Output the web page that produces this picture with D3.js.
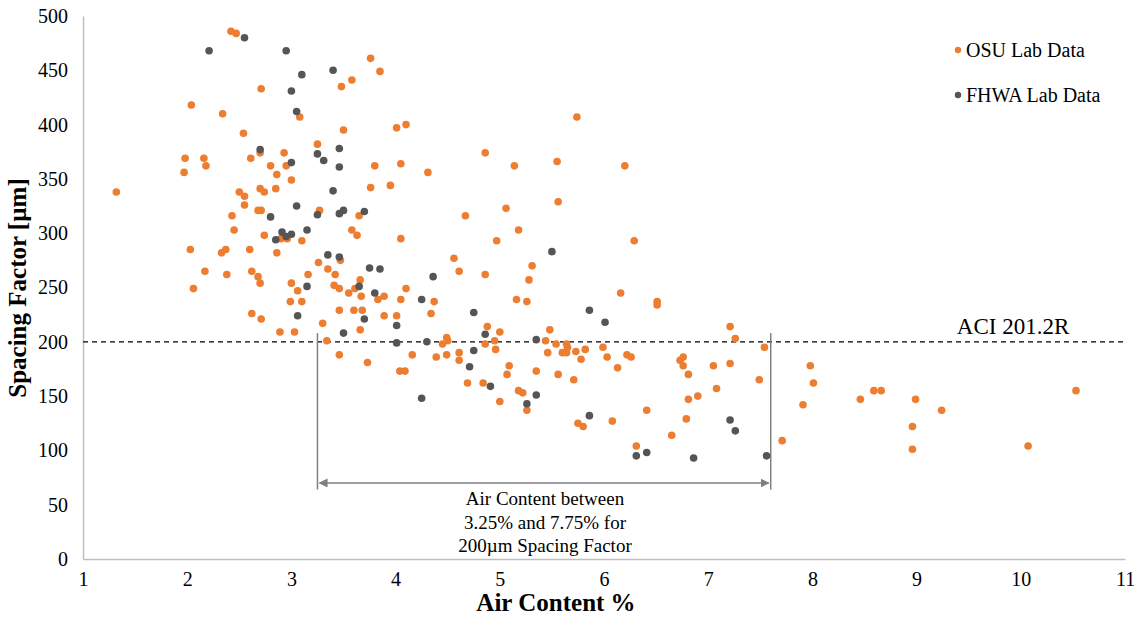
<!DOCTYPE html>
<html>
<head>
<meta charset="utf-8">
<script src="https://d3js.org/d3.v7.min.js"></script>
<style>
  body { margin: 0; background: #fff; }
  text { font-family: "Liberation Serif", "Times New Roman", serif; fill: #000; }
</style>
</head>
<body>
<script>
// OSU lab data: air content (%) and spacing factor (µm)
var osuAir = [2.42,2.47,2.71,2.04,2.34,3.08,2.54,3.25,2.70,1.98,2.16,2.61,2.93,2.95,2.80,2.18,1.97,2.86,3.00,1.32,
  2.50,2.55,2.70,2.74,2.85,2.55,2.68,2.71,3.27,2.43,2.45,2.74,2.90,2.96,3.10,2.03,2.33,2.37,2.60,2.86,
  3.26,3.35,2.17,2.38,2.62,2.68,2.70,3.16,2.06,3.00,3.06,2.99,3.10,2.62,2.71,3.30,2.89,3.03,3.34,
  3.76,3.85,3.58,3.48,3.50,4.01,4.10,3.80,4.05,4.31,4.86,5.14,5.55,3.76,3.95,3.65,3.58,3.63,4.05,4.67,
  5.06,5.56,5.18,4.97,3.47,3.42,4.56,4.61,4.86,5.31,5.28,3.66,3.41,3.46,3.61,4.10,3.55,3.67,3.83,3.89,
  4.05,4.37,5.16,5.26,3.46,3.60,3.68,3.89,4.01,4.34,3.66,4.88,5.48,5.00,4.49,4.50,4.45,4.86,4.95,4.96,
  5.44,5.54,5.64,3.46,4.16,4.39,4.49,4.61,5.46,5.60,5.64,3.73,4.04,4.09,4.61,5.09,5.07,5.35,5.56,4.69,
  4.84,5.18,5.22,5.00,5.26,
  5.74,6.20,6.29,6.16,6.51,6.51,7.21,7.26,7.54,5.65,5.73,5.82,5.99,6.03,6.22,6.26,5.78,6.76,6.73,6.76,
  5.71,6.13,6.81,7.05,7.21,7.49,7.08,6.90,6.81,6.41,6.08,5.75,5.80,6.79,6.65,6.31,7.71,7.91,7.98,8.01,
  8.46,8.59,8.66,8.99,9.24,8.96,8.96,10.07,10.53];
var osuSpacing = [486,484,433,418,410,407,392,382,374,369,369,369,374,362,362,362,356,354,349,338,
  338,334,341,338,341,326,321,321,321,316,303,298,295,295,293,285,282,285,285,282,
  273,267,265,262,265,260,254,262,249,254,247,237,237,226,221,217,209,209,201,
  461,449,441,435,395,397,400,362,364,356,374,362,366,342,344,316,303,298,295,316,
  323,329,303,293,275,262,277,265,262,270,257,257,252,249,249,249,245,242,239,242,
  239,237,239,237,229,229,229,224,224,226,211,214,211,209,204,201,198,198,201,193,
  201,198,198,188,188,186,188,190,190,190,190,181,173,173,183,178,170,173,170,162,
  162,155,153,145,137,
  407,362,293,245,237,234,214,203,195,195,191,193,195,186,188,186,184,186,183,178,
  165,176,170,178,180,165,157,150,147,137,127,125,122,129,114,104,109,142,178,162,
  147,155,155,147,137,122,101,104,155];

// FHWA lab data
var fhwaAir = [2.55,2.21,2.95,3.10,3.00,3.05,2.70,3.25,3.31,3.00,3.05,3.25,2.80,3.15,2.91,2.95,3.00,2.85,3.35,3.15,
  3.06,3.40,3.46,3.46,3.40,3.46,3.50,3.70,5.50,3.46,3.75,3.85,4.36,3.65,3.80,4.25,4.75,3.70,4.01,3.50,
  4.86,4.01,4.30,5.35,4.75,4.71,4.91,4.25,5.35,5.26,5.86,6.01,5.86,7.21,7.26,6.31,6.41,6.86,7.56];
var fhwaSpacing = [480,468,468,446,431,412,377,373,367,365,325,317,315,303,301,297,299,294,280,251,
  224,450,378,361,339,318,321,320,283,278,268,267,260,251,245,239,227,221,215,208,
  207,199,200,202,192,177,159,148,151,143,229,218,132,128,118,95,98,93,95];

var xTicks = [1,2,3,4,5,6,7,8,9,10,11];
var yTicks = [0,50,100,150,200,250,300,350,400,450,500];
var aciLimit = 200;
var bracketAir = [3.25, 7.6];
var noteLines = ["Air Content between", "3.25% and 7.75% for", "200\u00b5m Spacing Factor"];

var W = 1145, H = 617;
var mLeft = 83, mRight = 1125, mTop = 16, mBottom = 559;
var orange = "#ED7D31", gray = "#555555";

var svg = d3.select("body").append("svg")
    .attr("width", W).attr("height", H);

var x = d3.scaleLinear().domain([1, 11]).range([mLeft, mRight]);
var y = d3.scaleLinear().domain([0, 500]).range([mBottom, mTop]);

// axes
var xAxis = svg.append("g")
    .attr("transform", "translate(0," + mBottom + ")")
    .call(d3.axisBottom(x).tickValues(xTicks).tickSize(0).tickPadding(13).tickFormat(d3.format("d")));
var yAxis = svg.append("g")
    .attr("transform", "translate(" + mLeft + ",0)")
    .call(d3.axisLeft(y).tickValues(yTicks).tickSize(0).tickPadding(15));
[xAxis, yAxis].forEach(function(g) {
    g.select(".domain").attr("stroke", "#bfbfbf").attr("stroke-width", 1.5);
    g.selectAll("text").style("font-family", "'Liberation Serif', serif").style("font-size", "20px").attr("fill", "#000");
});

// ACI 201.2R dashed limit
svg.append("line")
    .attr("x1", x(1)).attr("x2", x(11))
    .attr("y1", y(aciLimit)).attr("y2", y(aciLimit))
    .attr("stroke", "#000").attr("stroke-width", 1.3)
    .attr("stroke-dasharray", "5,4");
svg.append("text")
    .attr("x", 1013).attr("y", y(aciLimit) - 8)
    .attr("text-anchor", "middle")
    .style("font-size", "23px")
    .text("ACI 201.2R");

// bracket annotation
var defs = svg.append("defs");
defs.append("marker").attr("id", "arr")
    .attr("viewBox", "0 0 10 10").attr("refX", 9).attr("refY", 5)
    .attr("markerWidth", 9).attr("markerHeight", 9)
    .attr("markerUnits", "userSpaceOnUse")
    .attr("orient", "auto-start-reverse")
  .append("path").attr("d", "M0,0 L10,5 L0,10 z").attr("fill", "#7f7f7f");

bracketAir.forEach(function(a) {
    svg.append("line")
        .attr("x1", x(a)).attr("x2", x(a))
        .attr("y1", y(208)).attr("y2", y(64))
        .attr("stroke", "#7f7f7f").attr("stroke-width", 1.5);
});
svg.append("line")
    .attr("x1", x(bracketAir[0]) + 2).attr("x2", x(bracketAir[1]) - 2)
    .attr("y1", y(70)).attr("y2", y(70))
    .attr("stroke", "#7f7f7f").attr("stroke-width", 1.5)
    .attr("marker-start", "url(#arr)").attr("marker-end", "url(#arr)");

svg.append("g").selectAll("text")
    .data(noteLines).enter()
    .append("text")
    .attr("x", 545)
    .attr("y", function(d, i) { return 505 + i * 23.5; })
    .attr("text-anchor", "middle")
    .style("font-size", "19px")
    .text(function(d) { return d; });

// points
var osu = osuAir.map(function(a, i) { return [a, osuSpacing[i]]; });
var fhwa = fhwaAir.map(function(a, i) { return [a, fhwaSpacing[i]]; });

svg.append("g").selectAll("circle")
    .data(osu).enter()
    .append("circle")
    .attr("cx", function(d) { return x(d[0]); })
    .attr("cy", function(d) { return y(d[1]); })
    .attr("r", 3.8)
    .attr("fill", orange);

svg.append("g").selectAll("circle")
    .data(fhwa).enter()
    .append("circle")
    .attr("cx", function(d) { return x(d[0]); })
    .attr("cy", function(d) { return y(d[1]); })
    .attr("r", 3.8)
    .attr("fill", gray);

// axis titles
svg.append("text")
    .attr("x", 556).attr("y", 611)
    .attr("text-anchor", "middle")
    .style("font-size", "25px").style("font-weight", "bold")
    .text("Air Content %");
svg.append("text")
    .attr("transform", "translate(26,288) rotate(-90)")
    .attr("text-anchor", "middle")
    .style("font-size", "25px").style("font-weight", "bold")
    .text("Spacing Factor [\u00b5m]");

// legend
var legend = [["OSU Lab Data", orange], ["FHWA Lab Data", gray]];
var lg = svg.append("g").selectAll("g")
    .data(legend).enter()
    .append("g")
    .attr("transform", function(d, i) { return "translate(958," + (50 + i * 45) + ")"; });
lg.append("circle").attr("r", 3.2).attr("fill", function(d) { return d[1]; });
lg.append("text")
    .attr("x", 8).attr("y", 7)
    .style("font-size", "20px")
    .text(function(d) { return d[0]; });
</script>
</body>
</html>
